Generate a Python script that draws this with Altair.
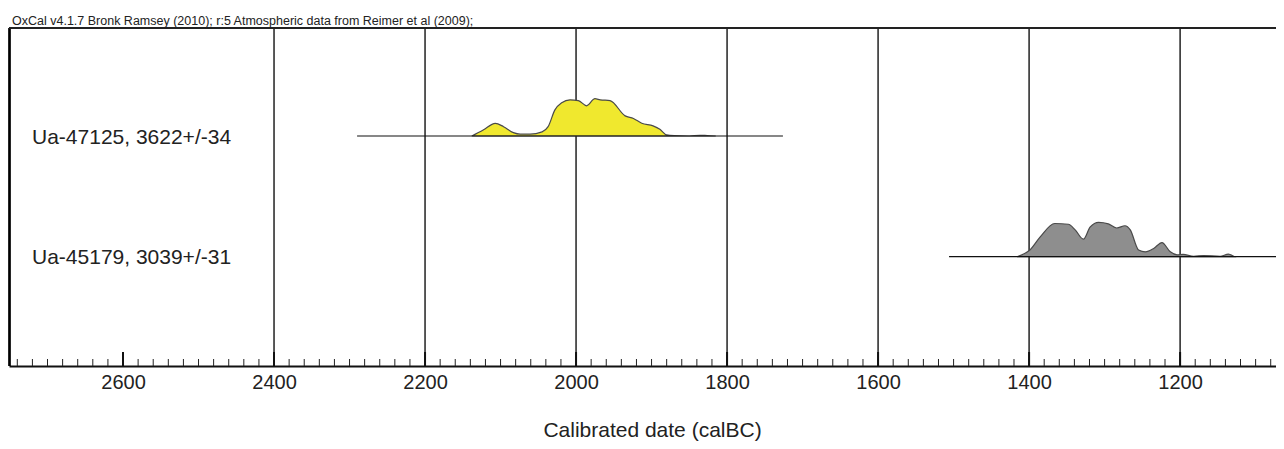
import altair as alt
import pandas as pd

# ---------------- data ----------------
title_text = "OxCal v4.1.7 Bronk Ramsey (2010); r:5 Atmospheric data from Reimer et al (2009);"
axis_title = "Calibrated date (calBC)"

sample_labels = ["Ua-47125, 3622+/-34", "Ua-45179, 3039+/-31"]
sample_colors = ["#F0E82E", "#8E8E8E"]
range_start = [2290, 1506]
range_end = [1726, 1050]

yellow_years = [2138, 2123, 2107, 2096, 2083, 2074, 2061, 2045, 2037, 2028, 2019, 2008, 1997, 1986,
                1975, 1968, 1955, 1935, 1924, 1913, 1898, 1889, 1880, 1870, 1850, 1836, 1826, 1815]
yellow_prob = [0, 0.16, 0.34, 0.25, 0.09, 0.05, 0.05, 0.11, 0.25, 0.70, 0.89, 0.97, 0.95, 0.81,
               1.00, 0.97, 0.95, 0.54, 0.47, 0.34, 0.27, 0.18, 0.03, 0.01, 0.0, 0.02, 0.01, 0]

gray_years = [1416, 1399, 1385, 1366, 1348, 1339, 1328, 1319, 1308, 1295, 1284, 1273, 1266, 1255,
              1246, 1235, 1224, 1213, 1204, 1196, 1182, 1169, 1147, 1136, 1128]
gray_prob = [0, 0.18, 0.54, 0.89, 0.87, 0.72, 0.47, 0.80, 0.92, 0.88, 0.77, 0.83, 0.72, 0.18,
             0.13, 0.22, 0.38, 0.13, 0.05, 0.06, 0.01, 0.03, 0.01, 0.07, 0]

grid_years = [2400, 2200, 2000, 1800, 1600, 1400, 1200]
major_ticks = [2600, 2400, 2200, 2000, 1800, 1600, 1400, 1200]
minor_ticks = list(range(2740, 1050, -20))

# ---------------- layout ----------------
W, H = 1267, 338
X_DOMAIN = [1073, 2751]
row_base = [230, 109.3]      # baseline of each row, in plot px from bottom
PEAK = 37.3                  # px for probability 1

dist_rows = []
for i, (yrs, prs) in enumerate([(yellow_years, yellow_prob), (gray_years, gray_prob)]):
    for yv, pv in zip(yrs, prs):
        dist_rows.append({"year": yv, "prob": pv, "sample": sample_labels[i],
                          "base": row_base[i], "top": row_base[i] + pv * PEAK})
dist_df = pd.DataFrame(dist_rows)

range_df = pd.DataFrame({"sample": sample_labels, "start": range_start, "end": range_end,
                         "base": row_base, "ly": [b - 1.5 for b in row_base]})

xscale = alt.Scale(domain=X_DOMAIN, reverse=True, nice=False, zero=False)
yscale = alt.Scale(domain=[0, H], nice=False, zero=False)
xaxis = alt.Axis(values=major_ticks, format="d", title=axis_title, grid=False, ticks=False,
                 tickSize=0, domain=True, domainColor="#111", domainWidth=2,
                 labelFont="Liberation Sans", labelFontSize=20, labelColor="#222", labelPadding=6,
                 titleFont="Liberation Sans", titleFontSize=21, titleFontWeight="normal",
                 titleColor="#222", titlePadding=27, titleX=643, titleAlign="center")


def X(field):
    return alt.X(field, type="quantitative", scale=xscale, axis=xaxis)


def Y(field):
    return alt.Y(field, type="quantitative", scale=yscale, axis=None)


one = pd.DataFrame({"a": [0]})

grid = alt.Chart(pd.DataFrame({"year": grid_years})).mark_rule(
    color="#222", strokeWidth=1.5).encode(x=X("year"), y=alt.value(0), y2=alt.value(H))

areas = alt.Chart(dist_df).mark_area(interpolate="monotone", stroke="#4a4a4a", strokeWidth=1.2).encode(
    x=X("year"), y=Y("top"), y2="base",
    fill=alt.Fill("sample:N", scale=alt.Scale(domain=sample_labels, range=sample_colors), legend=None),
    detail="sample:N")

baselines = alt.Chart(range_df).mark_rule(color="#111", strokeWidth=1.2).encode(
    x=X("start"), x2="end", y=Y("base"))

labels = alt.Chart(range_df).mark_text(align="left", baseline="middle", font="Liberation Sans",
                                       fontSize=21, color="#222").encode(
    x=alt.value(23), y=Y("ly"), text="sample:N")

left_border = alt.Chart(one).mark_rule(color="#000", strokeWidth=2.7).encode(
    x=alt.value(0.5), y=alt.value(0), y2=alt.value(H))
top_border = alt.Chart(one).mark_rule(color="#222", strokeWidth=2).encode(
    x=alt.value(0), x2=alt.value(W), y=alt.value(0))

minor = alt.Chart(pd.DataFrame({"year": minor_ticks})).mark_rule(color="#222", strokeWidth=1).encode(
    x=X("year"), y=alt.value(H - 7), y2=alt.value(H))
major = alt.Chart(pd.DataFrame({"year": major_ticks})).mark_rule(color="#111", strokeWidth=2).encode(
    x=X("year"), y=alt.value(H - 14), y2=alt.value(H))

title = alt.Chart(one).mark_text(align="left", baseline="alphabetic", font="Liberation Sans",
                                 fontSize=12.5, color="#222").encode(
    x=alt.value(3), y=alt.value(-3.5), text=alt.value(title_text))

chart = alt.layer(grid, areas, baselines, labels, minor, major, left_border, top_border, title).properties(
    width=W, height=H, autosize="none",
    padding={"left": 1, "top": 20, "right": 0, "bottom": 75},
    background="white",
).configure_view(stroke=None)

chart.save("out.html", embed_options={"renderer": "svg", "actions": False})
